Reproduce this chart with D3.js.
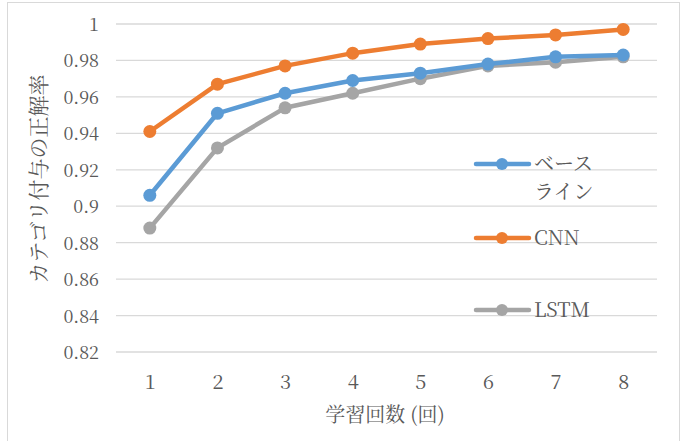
<!DOCTYPE html>
<html>
<head>
<meta charset="utf-8">
<script src="https://cdn.jsdelivr.net/npm/d3@7"></script>
<style>
  html, body { margin: 0; padding: 0; background: #fff; }
  svg { display: block; }
</style>
</head>
<body>
<script>
// Training rounds and accuracy per model
const rounds = ["1", "2", "3", "4", "5", "6", "7", "8"];
const baseline = [0.906, 0.951, 0.962, 0.969, 0.973, 0.978, 0.982, 0.983];
const cnn      = [0.941, 0.967, 0.977, 0.984, 0.989, 0.992, 0.994, 0.997];
const lstm     = [0.888, 0.932, 0.954, 0.962, 0.970, 0.977, 0.979, 0.982];
const yTicks = [0.82, 0.84, 0.86, 0.88, 0.9, 0.92, 0.94, 0.96, 0.98, 1];
const seriesNames = ["ベース\nライン", "CNN", "LSTM"];
const seriesColors = ["#5B9BD5", "#ED7D31", "#A5A5A5"];

const W = 684, H = 441;
const textColor = "#595959";
const mincho = "Noto Serif CJK JP";

const svg = d3.select("body").append("svg").attr("width", W).attr("height", H)
  .attr("font-family", mincho).attr("fill", textColor);

// chart frame
svg.append("rect").attr("x", 7.5).attr("y", 2.5).attr("width", 672).attr("height", 440)
  .attr("fill", "#fff").attr("stroke", "#D9D9D9").attr("stroke-width", 1);

const x = d3.scalePoint().domain(rounds).range([116, 657]).padding(0.5);
const y = d3.scaleLinear().domain([0.82, 1]).range([352, 24]);

// horizontal gridlines
svg.append("g").selectAll("line").data(yTicks).join("line")
  .attr("x1", 116).attr("x2", 657)
  .attr("y1", d => y(d)).attr("y2", d => y(d))
  .attr("stroke", "#D9D9D9").attr("stroke-width", 1.3);

// y axis labels
const yAxis = d3.axisLeft(y).tickValues(yTicks).tickSize(0).tickPadding(0)
  .tickFormat(d => d3.format("")(+d.toFixed(2)));
svg.append("g").attr("transform", "translate(99,0)").call(yAxis)
  .call(g => g.select(".domain").remove())
  .attr("font-family", mincho).attr("font-size", 18)
  .selectAll("text").attr("fill", textColor).attr("dy", "0.36em");

// x axis labels
const xAxis = d3.axisBottom(x).tickSize(0).tickPadding(0);
svg.append("g").attr("transform", "translate(0,375)").call(xAxis)
  .call(g => g.select(".domain").remove())
  .attr("font-family", mincho).attr("font-size", 20)
  .selectAll("text").attr("fill", textColor).attr("dy", "0.72em");

// axis titles
svg.append("text").attr("x", 385).attr("y", 422).attr("text-anchor", "middle")
  .attr("font-size", 20).text("学習回数 (回)");
svg.append("text").attr("transform", "translate(46,179) rotate(-90)")
  .attr("text-anchor", "middle").attr("font-size", 21)
  .text("カテゴリ付与の正解率");

// series lines with markers
const data = [baseline, cnn, lstm];
const line = d3.line().x((d, i) => x(rounds[i])).y(d => y(d));
const order = [2, 0, 1];
order.forEach(k => {
  const g = svg.append("g");
  g.append("path").datum(data[k]).attr("d", line)
    .attr("fill", "none").attr("stroke", seriesColors[k])
    .attr("stroke-width", 4.5).attr("stroke-linejoin", "round").attr("stroke-linecap", "round");
  g.selectAll("circle").data(data[k]).join("circle")
    .attr("cx", (d, i) => x(rounds[i])).attr("cy", d => y(d)).attr("r", 6.5)
    .attr("fill", seriesColors[k]);
});

// legend
const legendY = [164, 238, 310];
seriesNames.forEach((name, k) => {
  const g = svg.append("g").attr("transform", `translate(0,${legendY[k]})`);
  g.append("line").attr("x1", 476).attr("x2", 529).attr("y1", 0).attr("y2", 0)
    .attr("stroke", seriesColors[k]).attr("stroke-width", 4.5).attr("stroke-linecap", "round");
  g.append("circle").attr("cx", 502).attr("cy", 0).attr("r", 6).attr("fill", seriesColors[k]);
  const t = g.append("text").attr("x", 534).attr("y", 0).attr("font-size", 20);
  name.split("\n").forEach((part, j) => {
    t.append("tspan").attr("x", 534).attr("dy", j === 0 ? "0.35em" : "1.4em").text(part);
  });
});
</script>
</body>
</html>
